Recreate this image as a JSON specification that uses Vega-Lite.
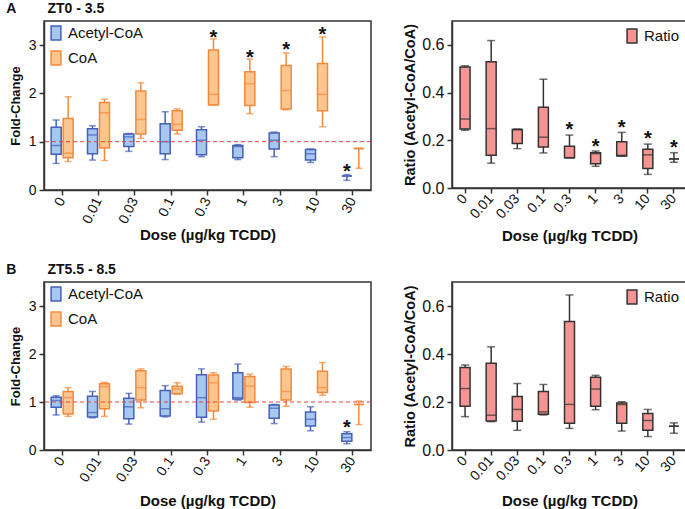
{
  "$schema": "https://vega.github.io/schema/vega-lite/v6.json",
  "padding": {"left": 5, "top": 1, "right": 0, "bottom": 0},
  "background": "white",
  "config": {
    "font": "Liberation Sans",
    "view": {"stroke": "#333", "strokeWidth": 1.5},
    "axis": {"grid": false, "domainColor": "#333", "domainWidth": 1.5, "tickColor": "#333", "tickWidth": 1.5, "tickSize": 5, "labelColor": "#111", "titleColor": "#111", "titleFontWeight": "bold", "labelFont": "Liberation Sans", "titleFont": "Liberation Sans"},
    "axisX": {"labelFontSize": 14, "titleFontSize": 15, "labelPadding": 3, "titleBaseline": "top"},
    "axisY": {"labelPadding": 3},
    "legend": {"labelFont": "Liberation Sans", "labelColor": "#111"},
    "title": {"font": "Liberation Sans", "color": "#111"}
  },
  "columns": 2,
  "bounds": "flush",
  "spacing": {"row": 92, "column": 81},
  "resolve": {
    "scale": {"fill": "independent", "stroke": "independent", "color": "independent", "x": "independent", "y": "independent", "xOffset": "independent"},
    "legend": {"fill": "independent", "stroke": "independent", "color": "independent"}
  },
  "datasets": {
    "fc": [
      {"p":"A","dose":"0","series":"Acetyl-CoA","mn":0.55,"q1":0.74,"md":0.92,"q3":1.30,"mx":1.45},
      {"p":"A","dose":"0.01","series":"Acetyl-CoA","mn":0.62,"q1":0.75,"md":1.14,"q3":1.27,"mx":1.33},
      {"p":"A","dose":"0.03","series":"Acetyl-CoA","mn":0.80,"q1":0.90,"md":1.10,"q3":1.16,"mx":1.17},
      {"p":"A","dose":"0.1","series":"Acetyl-CoA","mn":0.63,"q1":0.75,"md":1.00,"q3":1.37,"mx":1.62},
      {"p":"A","dose":"0.3","series":"Acetyl-CoA","mn":0.69,"q1":0.73,"md":1.03,"q3":1.25,"mx":1.31},
      {"p":"A","dose":"1","series":"Acetyl-CoA","mn":0.63,"q1":0.67,"md":0.90,"q3":0.92,"mx":0.94},
      {"p":"A","dose":"3","series":"Acetyl-CoA","mn":0.69,"q1":0.85,"md":1.03,"q3":1.18,"mx":1.20},
      {"p":"A","dose":"10","series":"Acetyl-CoA","mn":0.57,"q1":0.62,"md":0.75,"q3":0.84,"mx":0.85},
      {"p":"A","dose":"30","series":"Acetyl-CoA","mn":0.20,"q1":0.29,"md":0.29,"q3":0.29,"mx":0.32},
      {"p":"A","dose":"0","series":"CoA","mn":0.59,"q1":0.67,"md":0.76,"q3":1.48,"mx":1.93},
      {"p":"A","dose":"0.01","series":"CoA","mn":0.61,"q1":0.87,"md":1.60,"q3":1.81,"mx":1.88},
      {"p":"A","dose":"0.03","series":"CoA","mn":1.07,"q1":1.16,"md":1.46,"q3":2.05,"mx":2.22},
      {"p":"A","dose":"0.1","series":"CoA","mn":1.16,"q1":1.24,"md":1.36,"q3":1.64,"mx":1.68},
      {"p":"A","dose":"0.3","series":"CoA","mn":1.76,"q1":1.76,"md":1.98,"q3":2.90,"mx":3.13},
      {"p":"A","dose":"1","series":"CoA","mn":1.58,"q1":1.75,"md":2.20,"q3":2.45,"mx":2.71},
      {"p":"A","dose":"3","series":"CoA","mn":1.66,"q1":1.68,"md":2.06,"q3":2.58,"mx":2.84},
      {"p":"A","dose":"10","series":"CoA","mn":1.31,"q1":1.64,"md":1.98,"q3":2.62,"mx":3.17},
      {"p":"A","dose":"30","series":"CoA","mn":0.45,"q1":0.86,"md":0.86,"q3":0.86,"mx":0.86},
      {"p":"B","dose":"0","series":"Acetyl-CoA","mn":0.73,"q1":0.89,"md":1.03,"q3":1.10,"mx":1.13},
      {"p":"B","dose":"0.01","series":"Acetyl-CoA","mn":0.67,"q1":0.69,"md":0.78,"q3":1.12,"mx":1.22},
      {"p":"B","dose":"0.03","series":"Acetyl-CoA","mn":0.54,"q1":0.65,"md":0.90,"q3":1.08,"mx":1.18},
      {"p":"B","dose":"0.1","series":"Acetyl-CoA","mn":0.69,"q1":0.71,"md":0.86,"q3":1.24,"mx":1.34},
      {"p":"B","dose":"0.3","series":"Acetyl-CoA","mn":0.58,"q1":0.68,"md":1.09,"q3":1.57,"mx":1.69},
      {"p":"B","dose":"1","series":"Acetyl-CoA","mn":1.04,"q1":1.06,"md":1.09,"q3":1.61,"mx":1.79},
      {"p":"B","dose":"3","series":"Acetyl-CoA","mn":0.55,"q1":0.66,"md":0.87,"q3":0.94,"mx":0.95},
      {"p":"B","dose":"10","series":"Acetyl-CoA","mn":0.40,"q1":0.50,"md":0.64,"q3":0.79,"mx":0.90},
      {"p":"B","dose":"30","series":"Acetyl-CoA","mn":0.13,"q1":0.18,"md":0.26,"q3":0.34,"mx":0.38},
      {"p":"B","dose":"0","series":"CoA","mn":0.70,"q1":0.75,"md":1.09,"q3":1.22,"mx":1.30},
      {"p":"B","dose":"0.01","series":"CoA","mn":0.70,"q1":0.86,"md":1.32,"q3":1.38,"mx":1.41},
      {"p":"B","dose":"0.03","series":"CoA","mn":0.88,"q1":1.04,"md":1.30,"q3":1.65,"mx":1.69},
      {"p":"B","dose":"0.1","series":"CoA","mn":1.16,"q1":1.17,"md":1.27,"q3":1.33,"mx":1.40},
      {"p":"B","dose":"0.3","series":"CoA","mn":0.64,"q1":0.81,"md":1.40,"q3":1.56,"mx":1.61},
      {"p":"B","dose":"1","series":"CoA","mn":0.89,"q1":0.99,"md":1.33,"q3":1.53,"mx":1.58},
      {"p":"B","dose":"3","series":"CoA","mn":0.91,"q1":1.04,"md":1.22,"q3":1.69,"mx":1.74},
      {"p":"B","dose":"10","series":"CoA","mn":1.14,"q1":1.20,"md":1.30,"q3":1.64,"mx":1.82},
      {"p":"B","dose":"30","series":"CoA","mn":0.53,"q1":0.95,"md":0.95,"q3":0.95,"mx":1.02}
    ],
    "ratio": [
      {"p":"A","dose":"0","series":"Ratio","mn":0.242,"q1":0.247,"md":0.289,"q3":0.507,"mx":0.512},
      {"p":"A","dose":"0.01","series":"Ratio","mn":0.104,"q1":0.137,"md":0.249,"q3":0.529,"mx":0.618},
      {"p":"A","dose":"0.03","series":"Ratio","mn":0.165,"q1":0.187,"md":0.245,"q3":0.245,"mx":0.247},
      {"p":"A","dose":"0.1","series":"Ratio","mn":0.147,"q1":0.172,"md":0.213,"q3":0.338,"mx":0.456},
      {"p":"A","dose":"0.3","series":"Ratio","mn":0.127,"q1":0.127,"md":0.127,"q3":0.175,"mx":0.222},
      {"p":"A","dose":"1","series":"Ratio","mn":0.091,"q1":0.102,"md":0.144,"q3":0.148,"mx":0.155},
      {"p":"A","dose":"3","series":"Ratio","mn":0.134,"q1":0.134,"md":0.137,"q3":0.194,"mx":0.233},
      {"p":"A","dose":"10","series":"Ratio","mn":0.057,"q1":0.082,"md":0.139,"q3":0.162,"mx":0.184},
      {"p":"A","dose":"30","series":"Ratio","mn":0.108,"q1":0.122,"md":0.122,"q3":0.122,"mx":0.148},
      {"p":"B","dose":"0","series":"Ratio","mn":0.139,"q1":0.182,"md":0.256,"q3":0.344,"mx":0.354},
      {"p":"B","dose":"0.01","series":"Ratio","mn":0.118,"q1":0.121,"md":0.145,"q3":0.361,"mx":0.430},
      {"p":"B","dose":"0.03","series":"Ratio","mn":0.082,"q1":0.120,"md":0.169,"q3":0.223,"mx":0.277},
      {"p":"B","dose":"0.1","series":"Ratio","mn":0.146,"q1":0.149,"md":0.159,"q3":0.244,"mx":0.273},
      {"p":"B","dose":"0.3","series":"Ratio","mn":0.090,"q1":0.111,"md":0.190,"q3":0.535,"mx":0.646},
      {"p":"B","dose":"1","series":"Ratio","mn":0.168,"q1":0.182,"md":0.254,"q3":0.303,"mx":0.311},
      {"p":"B","dose":"3","series":"Ratio","mn":0.079,"q1":0.111,"md":0.189,"q3":0.196,"mx":0.201},
      {"p":"B","dose":"10","series":"Ratio","mn":0.056,"q1":0.082,"md":0.123,"q3":0.152,"mx":0.169},
      {"p":"B","dose":"30","series":"Ratio","mn":0.070,"q1":0.099,"md":0.099,"q3":0.099,"mx":0.113}
    ],
    "stars": [
      {"p":"A","dose":"0.3","series":"CoA","y":3.26},
      {"p":"A","dose":"1","series":"CoA","y":2.85},
      {"p":"A","dose":"3","series":"CoA","y":3.02},
      {"p":"A","dose":"10","series":"CoA","y":3.33},
      {"p":"A","dose":"30","series":"Acetyl-CoA","y":0.48},
      {"p":"B","dose":"30","series":"Acetyl-CoA","y":0.565}
    ],
    "rstars": [
      {"p":"A","dose":"0.3","series":"Ratio","y":0.266},
      {"p":"A","dose":"1","series":"Ratio","y":0.194},
      {"p":"A","dose":"3","series":"Ratio","y":0.274},
      {"p":"A","dose":"10","series":"Ratio","y":0.227},
      {"p":"A","dose":"30","series":"Ratio","y":0.191}
    ],
    "ref": [{"v": 1}]
  },
  "concat": [
    {
      "width": 327, "height": 169,
      "title": {"text": "A\u00a0\u00a0\u00a0\u00a0\u00a0\u00a0\u00a0\u00a0ZT0 - 3.5", "anchor": "start", "frame": "bounds", "fontSize": 14, "fontWeight": "bold", "offset": 5, "dx": -3},
      "layer": [
        {"data": {"name": "fc"}, "transform": [{"filter": "datum.p === 'A'"}], "mark": {"type": "rule", "strokeWidth": 1.5},
         "encoding": {
           "x": {"field": "dose", "type": "nominal", "scale": {"domain": ["0","0.01","0.03","0.1","0.3","1","3","10","30"], "paddingInner": 0.34, "paddingOuter": 0.17}, "title": "Dose (µg/kg TCDD)", "axis": {"labelAngle": -64, "titleY": 37}},
           "xOffset": {"field": "series", "type": "nominal", "scale": {"domain": ["Acetyl-CoA","CoA"]}},
           "y": {"field": "mn", "type": "quantitative", "scale": {"domain": [0, 3.5]}, "title": "Fold-Change", "axis": {"values": [0,0.5,1,1.5,2,2.5,3], "format": "~g", "labelExpr": "datum.value % 1 === 0 ? datum.label : ''", "labelFontSize": 14, "titleFontSize": 13, "titlePadding": 6}},
           "y2": {"field": "mx"},
           "stroke": {"field": "series", "type": "nominal", "scale": {"domain": ["Acetyl-CoA","CoA"], "range": ["#4660b8","#f28a3c"]}, "legend": {"orient": "top-left", "offset": 4, "title": null, "symbolType": "M-0.7,-1H0.7V1H-0.7Z", "symbolSize": 196, "labelFontSize": 15, "symbolStrokeWidth": 1.5, "rowPadding": 5, "padding": 0, "symbolOpacity": 1}}
         }},
        {"data": {"name": "fc"}, "transform": [{"filter": "datum.p === 'A'"}], "mark": {"type": "bar", "size": 10, "strokeWidth": 1.5},
         "encoding": {
           "x": {"field": "dose", "type": "nominal", "title": "Dose (µg/kg TCDD)"},
           "xOffset": {"field": "series", "type": "nominal"},
           "y": {"field": "q1", "type": "quantitative", "title": "Fold-Change"},
           "y2": {"field": "q3"},
           "fill": {"field": "series", "type": "nominal", "scale": {"domain": ["Acetyl-CoA","CoA"], "range": ["#a7c8ee","#fdc58f"]}, "legend": {"orient": "top-left", "offset": 4, "title": null, "symbolType": "M-0.7,-1H0.7V1H-0.7Z", "symbolSize": 196, "labelFontSize": 15, "symbolStrokeWidth": 1.5, "rowPadding": 5, "padding": 0, "symbolOpacity": 1}},
           "stroke": {"field": "series", "type": "nominal"}
         }},
        {"data": {"name": "fc"}, "transform": [{"filter": "datum.p === 'A'"}], "mark": {"type": "tick", "size": 10, "thickness": 1.5},
         "encoding": {
           "x": {"field": "dose", "type": "nominal", "title": "Dose (µg/kg TCDD)"},
           "xOffset": {"field": "series", "type": "nominal"},
           "y": {"field": "md", "type": "quantitative", "title": "Fold-Change"},
           "color": {"field": "series", "type": "nominal", "scale": {"domain": ["Acetyl-CoA","CoA"], "range": ["#4660b8","#f28a3c"]}, "legend": null}
         }},
        {"data": {"name": "fc"}, "transform": [{"filter": "datum.p === 'A'"}], "mark": {"type": "tick", "size": 7, "thickness": 1.5},
         "encoding": {
           "x": {"field": "dose", "type": "nominal", "title": "Dose (µg/kg TCDD)"},
           "xOffset": {"field": "series", "type": "nominal"},
           "y": {"field": "mn", "type": "quantitative", "title": "Fold-Change"},
           "color": {"field": "series", "type": "nominal", "legend": null}
         }},
        {"data": {"name": "fc"}, "transform": [{"filter": "datum.p === 'A'"}], "mark": {"type": "tick", "size": 7, "thickness": 1.5},
         "encoding": {
           "x": {"field": "dose", "type": "nominal", "title": "Dose (µg/kg TCDD)"},
           "xOffset": {"field": "series", "type": "nominal"},
           "y": {"field": "mx", "type": "quantitative", "title": "Fold-Change"},
           "color": {"field": "series", "type": "nominal", "legend": null}
         }},
        {"data": {"name": "ref"}, "mark": {"type": "rule", "stroke": "#e8453c", "strokeDash": [4, 3], "strokeWidth": 1},
         "encoding": {"y": {"field": "v", "type": "quantitative", "title": "Fold-Change"}}},
        {"data": {"name": "stars"}, "transform": [{"filter": "datum.p === 'A'"}], "mark": {"type": "text", "text": "*", "fontSize": 20, "fontWeight": "bold", "baseline": "alphabetic", "dy": 11.4, "color": "#111"},
         "encoding": {
           "x": {"field": "dose", "type": "nominal", "title": "Dose (µg/kg TCDD)"},
           "xOffset": {"field": "series", "type": "nominal"},
           "y": {"field": "y", "type": "quantitative", "title": "Fold-Change"}
         }}
      ]
    },
    {
      "width": 235, "height": 167,
      "layer": [
        {"data": {"name": "ratio"}, "transform": [{"filter": "datum.p === 'A'"}], "mark": {"type": "rule", "strokeWidth": 1.5, "color": "#333"},
         "encoding": {
           "x": {"field": "dose", "type": "nominal", "scale": {"domain": ["0","0.01","0.03","0.1","0.3","1","3","10","30"], "paddingInner": 0.6, "paddingOuter": 0.3}, "title": "Dose (µg/kg TCDD)", "axis": {"labelAngle": -48, "titleY": 40}},
           "y": {"field": "mn", "type": "quantitative", "scale": {"domain": [0, 0.7]}, "title": "Ratio (Acetyl-CoA/CoA)", "axis": {"values": [0,0.1,0.2,0.3,0.4,0.5,0.6], "format": ".1f", "labelExpr": "(datum.value * 10) % 2 < 0.5 ? datum.label : ''", "labelFontSize": 16, "titleFontSize": 14.5, "titlePadding": 4}},
           "y2": {"field": "mx"}
         }},
        {"data": {"name": "ratio"}, "transform": [{"filter": "datum.p === 'A'"}], "mark": {"type": "bar", "size": 10, "strokeWidth": 1.5, "stroke": "#333"},
         "encoding": {
           "x": {"field": "dose", "type": "nominal", "title": "Dose (µg/kg TCDD)"},
           "y": {"field": "q1", "type": "quantitative", "title": "Ratio (Acetyl-CoA/CoA)"},
           "y2": {"field": "q3"},
           "fill": {"field": "series", "type": "nominal", "scale": {"domain": ["Ratio"], "range": ["#f59492"]}, "legend": {"orient": "top-right", "offset": 7, "title": null, "symbolType": "M-0.7,-1H0.7V1H-0.7Z", "symbolSize": 196, "labelFontSize": 15, "symbolStrokeWidth": 1.5, "symbolStrokeColor": "#333", "padding": 0, "symbolOpacity": 1}}
         }},
        {"data": {"name": "ratio"}, "transform": [{"filter": "datum.p === 'A'"}], "mark": {"type": "tick", "size": 10, "thickness": 1.5, "color": "#333"},
         "encoding": {
           "x": {"field": "dose", "type": "nominal", "title": "Dose (µg/kg TCDD)"},
           "y": {"field": "md", "type": "quantitative", "title": "Ratio (Acetyl-CoA/CoA)"}
         }},
        {"data": {"name": "ratio"}, "transform": [{"filter": "datum.p === 'A'"}], "mark": {"type": "tick", "size": 8, "thickness": 1.5, "color": "#333"},
         "encoding": {
           "x": {"field": "dose", "type": "nominal", "title": "Dose (µg/kg TCDD)"},
           "y": {"field": "mn", "type": "quantitative", "title": "Ratio (Acetyl-CoA/CoA)"}
         }},
        {"data": {"name": "ratio"}, "transform": [{"filter": "datum.p === 'A'"}], "mark": {"type": "tick", "size": 8, "thickness": 1.5, "color": "#333"},
         "encoding": {
           "x": {"field": "dose", "type": "nominal", "title": "Dose (µg/kg TCDD)"},
           "y": {"field": "mx", "type": "quantitative", "title": "Ratio (Acetyl-CoA/CoA)"}
         }},
        {"data": {"name": "rstars"}, "transform": [{"filter": "datum.p === 'A'"}], "mark": {"type": "text", "text": "*", "fontSize": 20, "fontWeight": "bold", "baseline": "alphabetic", "dy": 11.4, "color": "#111"},
         "encoding": {
           "x": {"field": "dose", "type": "nominal", "title": "Dose (µg/kg TCDD)"},
           "y": {"field": "y", "type": "quantitative", "title": "Ratio (Acetyl-CoA/CoA)"}
         }}
      ]
    },
    {
      "width": 327, "height": 168,
      "title": {"text": "B\u00a0\u00a0\u00a0\u00a0\u00a0\u00a0\u00a0\u00a0ZT5.5 - 8.5", "anchor": "start", "frame": "bounds", "fontSize": 14, "fontWeight": "bold", "offset": 5, "dx": -3},
      "layer": [
        {"data": {"name": "fc"}, "transform": [{"filter": "datum.p === 'B'"}], "mark": {"type": "rule", "strokeWidth": 1.5},
         "encoding": {
           "x": {"field": "dose", "type": "nominal", "scale": {"domain": ["0","0.01","0.03","0.1","0.3","1","3","10","30"], "paddingInner": 0.34, "paddingOuter": 0.17}, "title": "Dose (µg/kg TCDD)", "axis": {"labelAngle": -56, "titleY": 43}},
           "xOffset": {"field": "series", "type": "nominal", "scale": {"domain": ["Acetyl-CoA","CoA"]}},
           "y": {"field": "mn", "type": "quantitative", "scale": {"domain": [0, 3.27]}, "title": "Fold-Change", "axis": {"values": [0,0.5,1,1.5,2,2.5,3], "format": "~g", "labelExpr": "datum.value % 1 === 0 ? datum.label : ''", "labelFontSize": 14, "titleFontSize": 13, "titlePadding": 6}},
           "y2": {"field": "mx"},
           "stroke": {"field": "series", "type": "nominal", "scale": {"domain": ["Acetyl-CoA","CoA"], "range": ["#4660b8","#f28a3c"]}, "legend": {"orient": "top-left", "offset": 4, "title": null, "symbolType": "M-0.7,-1H0.7V1H-0.7Z", "symbolSize": 196, "labelFontSize": 15, "symbolStrokeWidth": 1.5, "rowPadding": 5, "padding": 0, "symbolOpacity": 1}}
         }},
        {"data": {"name": "fc"}, "transform": [{"filter": "datum.p === 'B'"}], "mark": {"type": "bar", "size": 10, "strokeWidth": 1.5},
         "encoding": {
           "x": {"field": "dose", "type": "nominal", "title": "Dose (µg/kg TCDD)"},
           "xOffset": {"field": "series", "type": "nominal"},
           "y": {"field": "q1", "type": "quantitative", "title": "Fold-Change"},
           "y2": {"field": "q3"},
           "fill": {"field": "series", "type": "nominal", "scale": {"domain": ["Acetyl-CoA","CoA"], "range": ["#a7c8ee","#fdc58f"]}, "legend": {"orient": "top-left", "offset": 4, "title": null, "symbolType": "M-0.7,-1H0.7V1H-0.7Z", "symbolSize": 196, "labelFontSize": 15, "symbolStrokeWidth": 1.5, "rowPadding": 5, "padding": 0, "symbolOpacity": 1}},
           "stroke": {"field": "series", "type": "nominal"}
         }},
        {"data": {"name": "fc"}, "transform": [{"filter": "datum.p === 'B'"}], "mark": {"type": "tick", "size": 10, "thickness": 1.5},
         "encoding": {
           "x": {"field": "dose", "type": "nominal", "title": "Dose (µg/kg TCDD)"},
           "xOffset": {"field": "series", "type": "nominal"},
           "y": {"field": "md", "type": "quantitative", "title": "Fold-Change"},
           "color": {"field": "series", "type": "nominal", "scale": {"domain": ["Acetyl-CoA","CoA"], "range": ["#4660b8","#f28a3c"]}, "legend": null}
         }},
        {"data": {"name": "fc"}, "transform": [{"filter": "datum.p === 'B'"}], "mark": {"type": "tick", "size": 7, "thickness": 1.5},
         "encoding": {
           "x": {"field": "dose", "type": "nominal", "title": "Dose (µg/kg TCDD)"},
           "xOffset": {"field": "series", "type": "nominal"},
           "y": {"field": "mn", "type": "quantitative", "title": "Fold-Change"},
           "color": {"field": "series", "type": "nominal", "legend": null}
         }},
        {"data": {"name": "fc"}, "transform": [{"filter": "datum.p === 'B'"}], "mark": {"type": "tick", "size": 7, "thickness": 1.5},
         "encoding": {
           "x": {"field": "dose", "type": "nominal", "title": "Dose (µg/kg TCDD)"},
           "xOffset": {"field": "series", "type": "nominal"},
           "y": {"field": "mx", "type": "quantitative", "title": "Fold-Change"},
           "color": {"field": "series", "type": "nominal", "legend": null}
         }},
        {"data": {"name": "ref"}, "mark": {"type": "rule", "stroke": "#e8453c", "strokeDash": [4, 3], "strokeWidth": 1},
         "encoding": {"y": {"field": "v", "type": "quantitative", "title": "Fold-Change"}}},
        {"data": {"name": "stars"}, "transform": [{"filter": "datum.p === 'B'"}], "mark": {"type": "text", "text": "*", "fontSize": 20, "fontWeight": "bold", "baseline": "alphabetic", "dy": 11.4, "color": "#111"},
         "encoding": {
           "x": {"field": "dose", "type": "nominal", "title": "Dose (µg/kg TCDD)"},
           "xOffset": {"field": "series", "type": "nominal"},
           "y": {"field": "y", "type": "quantitative", "title": "Fold-Change"}
         }}
      ]
    },
    {
      "width": 235, "height": 168,
      "layer": [
        {"data": {"name": "ratio"}, "transform": [{"filter": "datum.p === 'B'"}], "mark": {"type": "rule", "strokeWidth": 1.5, "color": "#333"},
         "encoding": {
           "x": {"field": "dose", "type": "nominal", "scale": {"domain": ["0","0.01","0.03","0.1","0.3","1","3","10","30"], "paddingInner": 0.6, "paddingOuter": 0.3}, "title": "Dose (µg/kg TCDD)", "axis": {"labelAngle": -48, "titleY": 43}},
           "y": {"field": "mn", "type": "quantitative", "scale": {"domain": [0, 0.7]}, "title": "Ratio (Acetyl-CoA/CoA)", "axis": {"values": [0,0.1,0.2,0.3,0.4,0.5,0.6], "format": ".1f", "labelExpr": "(datum.value * 10) % 2 < 0.5 ? datum.label : ''", "labelFontSize": 16, "titleFontSize": 14.5, "titlePadding": 4}},
           "y2": {"field": "mx"}
         }},
        {"data": {"name": "ratio"}, "transform": [{"filter": "datum.p === 'B'"}], "mark": {"type": "bar", "size": 10, "strokeWidth": 1.5, "stroke": "#333"},
         "encoding": {
           "x": {"field": "dose", "type": "nominal", "title": "Dose (µg/kg TCDD)"},
           "y": {"field": "q1", "type": "quantitative", "title": "Ratio (Acetyl-CoA/CoA)"},
           "y2": {"field": "q3"},
           "fill": {"field": "series", "type": "nominal", "scale": {"domain": ["Ratio"], "range": ["#f59492"]}, "legend": {"orient": "top-right", "offset": 7, "title": null, "symbolType": "M-0.7,-1H0.7V1H-0.7Z", "symbolSize": 196, "labelFontSize": 15, "symbolStrokeWidth": 1.5, "symbolStrokeColor": "#333", "padding": 0, "symbolOpacity": 1}}
         }},
        {"data": {"name": "ratio"}, "transform": [{"filter": "datum.p === 'B'"}], "mark": {"type": "tick", "size": 10, "thickness": 1.5, "color": "#333"},
         "encoding": {
           "x": {"field": "dose", "type": "nominal", "title": "Dose (µg/kg TCDD)"},
           "y": {"field": "md", "type": "quantitative", "title": "Ratio (Acetyl-CoA/CoA)"}
         }},
        {"data": {"name": "ratio"}, "transform": [{"filter": "datum.p === 'B'"}], "mark": {"type": "tick", "size": 8, "thickness": 1.5, "color": "#333"},
         "encoding": {
           "x": {"field": "dose", "type": "nominal", "title": "Dose (µg/kg TCDD)"},
           "y": {"field": "mn", "type": "quantitative", "title": "Ratio (Acetyl-CoA/CoA)"}
         }},
        {"data": {"name": "ratio"}, "transform": [{"filter": "datum.p === 'B'"}], "mark": {"type": "tick", "size": 8, "thickness": 1.5, "color": "#333"},
         "encoding": {
           "x": {"field": "dose", "type": "nominal", "title": "Dose (µg/kg TCDD)"},
           "y": {"field": "mx", "type": "quantitative", "title": "Ratio (Acetyl-CoA/CoA)"}
         }}
      ]
    }
  ]
}
